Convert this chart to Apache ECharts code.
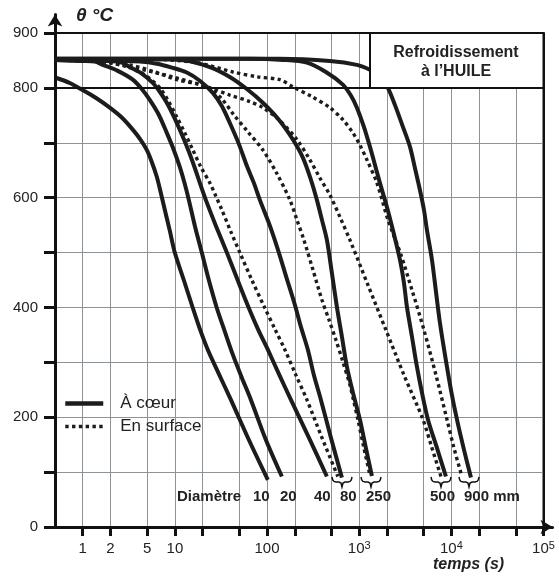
<!DOCTYPE html>
<html><head><meta charset="utf-8">
<script src="https://cdn.jsdelivr.net/npm/echarts@6/dist/echarts.min.js"></script>
<style>html,body{margin:0;padding:0;background:#fff}#c{width:559px;height:577px}</style>
</head><body><div id="c"></div>
<script>
// ---- axis ticks / labels ----
const xTicks = [1,2,5,10,20,50,100,200,500,1000,2000,5000,10000,20000,50000,100000];
const xLabels = [1,2,5,10,100,1000,10000,100000];
const yLabels = [0,200,400,600,800,900];
const diameters = ['10','20','40','80','250','500','900 mm'];

// ---- cooling curves [time s, temperature °C] ----
// core ("À cœur") — solid
const core10  = [[0.52,818],[0.722,809],[0.975,797],[1.384,782],[1.965,764],[2.652,746],[3.491,724],[4.264,705],[4.953,687],[5.613,665],[6.362,638],[7.03,609],[7.769,578],[8.803,540],[9.975,500],[12.49,450],[15.65,399],[18.64,361],[22.76,323],[29.98,279],[40.46,232],[63.44,159],[102,86]];
const core20  = [[0.5,851],[0.975,849],[1.35,848],[1.649,842],[2.399,831],[3.491,815],[4.371,798],[5.339,778],[6.686,751],[8.169,718],[9.73,687],[11.3,656],[12.81,625],[14.16,596],[16.45,549],[19.59,500],[23.34,450],[28.51,399],[34.83,356],[42.53,314],[53.26,272],[66.71,232],[97.05,159],[144.8,92]];
const core40  = [[0.5,851],[1.965,849],[2.652,846],[3.237,838],[4.371,826],[5.754,809],[6.855,793],[8.169,773],[9.975,744],[12.19,711],[14.16,684],[16.45,654],[18.64,627],[21.65,596],[27.81,549],[36.61,500],[48.18,449],[63.44,399],[79.45,361],[102,323],[134.3,279],[181.3,232],[284.4,163],[446,92]];
const core80  = [[0.5,851],[2.522,849],[4.158,848],[6.362,844],[9.254,837],[13.47,828],[18.64,813],[25.79,791],[32.3,767],[39.47,736],[49.41,698],[60.36,658],[71.9,627],[83.53,596],[107.3,549],[134.3,500],[164.1,452],[200.4,405],[232.8,365],[277.3,323],[322.2,277],[383.8,232],[492.7,163],[648.9,90]];
const core250 = [[0.5,852],[5.339,852],[12.81,850],[23.93,838],[39.47,820],[60.36,798],[90.03,773],[134.3,742],[190.6,706],[244.7,673],[298.9,633],[347.3,596],[393.6,560],[446,523],[505.3,463],[572.6,401],[648.9,347],[735.3,292],[854.3,245],[1018,196],[1182,144],[1374,93]];
const core500 = [[0.5,853],[65.05,853],[148.4,851],[270.5,846],[434.9,829],[665.3,806],[812.6,786],[944.1,764],[1125,729],[1307,693],[1481,660],[1678,627],[1999,583],[2322,541],[2766,487],[3057,445],[3296,401],[3735,347],[4231,292],[4795,245],[5571,196],[6978,144],[8737,92]];
const core900 = [[0.5,853],[137.7,853],[480.8,849],[944.1,842],[1307,833],[1678,822],[2049,800],[2441,769],[2982,729],[3553,693],[4025,654],[4561,614],[5041,578],[5434,541],[6158,487],[6806,429],[7519,372],[8521,314],[9901,250],[11500,196],[13700,141],[16320,90]];
// surface ("En surface") — dotted
const surf80  = [[0.5,851],[1.35,849],[1.965,846],[2.858,840],[4.158,829],[5.339,817],[6.855,800],[8.375,778],[10.49,747],[12.81,718],[15.65,687],[19.11,656],[23.93,627],[27.81,603],[32.3,578],[40.46,538],[50.67,500],[68.39,450],[94.65,399],[121.5,361],[156.1,323],[205.5,277],[270.5,232],[393.6,163],[587,92]];
const surf250 = [[0.5,851],[1.53,849],[3.237,842],[6.05,829],[10.49,815],[18.64,806],[24.54,797],[32.3,780],[43.61,751],[61.88,720],[90.03,687],[127.8,644],[176.8,596],[210.6,560],[250.9,523],[314.4,469],[393.6,414],[468.8,378],[558.5,341],[665.3,301],[792.5,259],[876,228],[967.9,196],[1125,144],[1307,95]];
const surf500 = [[0.5,851],[0.928,849],[1.53,848],[3.491,837],[9.489,820],[22.2,802],[39.47,787],[65.05,775],[90.03,764],[134.3,742],[210.6,706],[291.5,669],[374.4,636],[480.8,605],[617.2,565],[792.5,523],[1243,441],[1950,359],[3057,277],[4916,196],[6158,144],[7713,92]];
const surf900 = [[0.5,852],[5.339,852],[17.29,846],[42.53,829],[79.45,820],[137.7,815],[190.6,802],[306.5,784],[480.8,764],[665.3,742],[854.3,718],[1018,696],[1212,669],[1556,627],[2049,560],[2837,496],[3735,432],[5041,359],[6806,277],[8960,196],[10670,144],[13030,92]];

const coreCurves = [core10, core20, core40, core80, core250, core500, core900];
const surfCurves = [surf80, surf250, surf500, surf900];

const INK = '#1c1c1c';
const FONT = 'Liberation Sans, Arial, Helvetica, sans-serif';
const NOSYM = {color:'rgba(0,0,0,0)', borderWidth:0};
const SOLID = {color:INK, width:4, cap:'butt', join:'round'};
const DOTTED = {color:INK, width:3.4, type:[3.4,3.4], cap:'butt'};

const series = [];
coreCurves.forEach((d, i) => {
  const s = {
    type:'line', name:'À cœur', xAxisIndex:0, yAxisIndex:0, data:d, symbol:'none', smooth:0.3, silent:true, z:3,
    itemStyle:NOSYM, lineStyle:SOLID
  };
  if (i === 0) s.markLine = {silent:true, symbol:'none', label:{show:false}, lineStyle:{color:'#111', width:2, type:'solid'},
    data:[{yAxis:800},{yAxis:900},{xAxis:100000}]};
  series.push(s);
});
surfCurves.forEach(d => series.push({
  type:'line', name:'En surface', xAxisIndex:0, yAxisIndex:0, data:d, symbol:'none', smooth:0.3, silent:true, z:3,
  itemStyle:NOSYM, lineStyle:DOTTED
}));

function brace(x0, x1) {
  const xm = (x0 + x1) / 2, yt = 477, yh = 482, yb = 487;
  return {type:'polyline', z:50, shape:{points:[[x0,yt],[x0+0.7,yh-2],[x0+2,yh-0.6],[x0+4,yh],[xm-3,yh],[xm-1,yh+1],[xm,yb],[xm+1,yh+1],[xm+3,yh],[x1-4,yh],[x1-2,yh-0.6],[x1-0.7,yh-2],[x1,yt]]},
    style:{fill:null, stroke:'#111', lineWidth:1.5}};
}
const diamX = [253, 280, 314, 340, 366, 430, 464];

const graphic = [
  {type:'rect', z:100, shape:{x:370, y:33, width:173.5, height:55}, style:{fill:'#fff', stroke:'#111', lineWidth:2}},
  {type:'text', z:101, style:{text:'Refroidissement', x:456, y:53, align:'center', verticalAlign:'middle', font:'bold 16px ' + FONT, fill:'#222'}},
  {type:'text', z:101, style:{text:'à l’HUILE', x:456, y:72, align:'center', verticalAlign:'middle', font:'bold 16px ' + FONT, fill:'#222'}},
  {type:'text', z:50, style:{text:'Diamètre', x:177, y:497, verticalAlign:'middle', font:'bold 15px ' + FONT, fill:'#222'}},
  brace(332, 352), brace(361, 381), brace(431, 451), brace(459, 479)
];
diameters.forEach((d, i) => graphic.push({type:'text', z:50, style:{text:d, x:diamX[i], y:497, verticalAlign:'middle', font:'bold 15px ' + FONT, fill:'#222'}}));

const chart = echarts.init(document.getElementById('c'), null, {renderer:'canvas'});
chart.setOption({
  animation:false,
  backgroundColor:'#fff',
  textStyle:{fontFamily:FONT},
  title:[
    {text:'θ °C', left:76, top:6, padding:0, textStyle:{fontSize:19, fontWeight:'bold', fontStyle:'italic', color:'#222', fontFamily:FONT}},
    {text:'temps (s)', left:433, top:557, padding:0, textStyle:{fontSize:16, fontWeight:'bold', fontStyle:'italic', color:'#222', fontFamily:FONT}}
  ],
  legend:{orient:'vertical', left:63, top:395, padding:0, itemWidth:38, itemHeight:12, itemGap:6, selectedMode:false,
    data:[{name:'À cœur', lineStyle:{width:4.5, color:INK}}, {name:'En surface', lineStyle:{width:3.4, type:[3.4,3.4], color:INK}}],
    itemStyle:{opacity:0}, textStyle:{fontSize:17, color:'#222', padding:[0,0,0,12]}},
  grid:[
    {left:55, top:33, width:488.5, height:494, show:true, borderColor:'#111', borderWidth:2, backgroundColor:'transparent'},
    {left:55, top:14.5, right:6.5, bottom:50}
  ],
  xAxis:[
    {type:'log', logBase:10, gridIndex:0, min:0.5, max:100000,
      axisLine:{show:false},
      axisTick:{show:true, length:9, customValues:xTicks, lineStyle:{color:'#111', width:3}},
      axisLabel:{customValues:xLabels, margin:13, color:'#222',
        formatter: v => v >= 1000 ? '{b|10}{s|' + Math.round(Math.log10(v)) + '}' : '{b|' + v + '}',
        rich:{b:{fontSize:15, lineHeight:18, color:'#222'}, s:{fontSize:11, lineHeight:11, verticalAlign:'top', color:'#222'}}},
      splitLine:{show:true, lineStyle:{color:'#8e9398', width:1}}},
    {type:'value', gridIndex:1, min:0, max:1,
      axisLine:{show:true, onZero:false, symbol:['none','arrow'], symbolSize:[11,12], lineStyle:{color:'#111', width:3}},
      axisTick:{show:false}, axisLabel:{show:false}, splitLine:{show:false}}
  ],
  yAxis:[
    {type:'value', gridIndex:0, min:0, max:900, interval:100,
      axisLine:{show:false},
      axisTick:{show:true, length:11, lineStyle:{color:'#111', width:3}},
      axisLabel:{margin:17, fontSize:15, color:'#222', formatter: v => yLabels.includes(v) ? String(v) : ''},
      splitLine:{show:true, lineStyle:{color:'#8e9398', width:1}}},
    {type:'value', gridIndex:1, min:0, max:1,
      axisLine:{show:true, onZero:false, symbol:['none','arrow'], symbolSize:[11,12], lineStyle:{color:'#111', width:3}},
      axisTick:{show:false}, axisLabel:{show:false}, splitLine:{show:false}}
  ],
  series: series,
  graphic: graphic
});
</script></body></html>
